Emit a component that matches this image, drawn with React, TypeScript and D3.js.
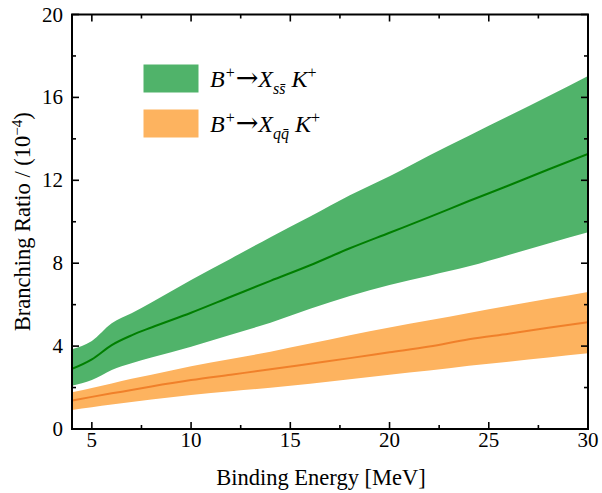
import React from "react";
import * as d3 from "d3";

const energy = [4, 5, 6, 7, 8, 10, 12, 14, 16, 18, 20, 22, 24, 26, 28, 30];
const ssCenter = [2.9, 3.36, 4.05, 4.52, 4.9, 5.61, 6.38, 7.15, 7.9, 8.72, 9.47, 10.22, 11.0, 11.75, 12.52, 13.27];
const ssUpper = [3.85, 4.25, 5.1, 5.58, 6.1, 7.19, 8.22, 9.25, 10.25, 11.28, 12.2, 13.2, 14.15, 15.1, 16.05, 17.03];
const ssLower = [2.09, 2.36, 2.85, 3.17, 3.45, 3.97, 4.55, 5.13, 5.8, 6.42, 6.95, 7.4, 7.85, 8.4, 8.95, 9.49];
const qqCenter = [1.37, 1.55, 1.72, 1.88, 2.05, 2.36, 2.62, 2.88, 3.15, 3.42, 3.7, 3.98, 4.33, 4.6, 4.88, 5.15];
const qqUpper = [1.77, 1.98, 2.2, 2.42, 2.62, 3.03, 3.38, 3.73, 4.12, 4.52, 4.9, 5.25, 5.6, 5.95, 6.28, 6.61];
const qqLower = [0.92, 1.05, 1.18, 1.3, 1.42, 1.64, 1.82, 1.99, 2.18, 2.4, 2.62, 2.82, 3.05, 3.25, 3.45, 3.65];

const xMajor = [5, 10, 15, 20, 25, 30];
const xMinor = [7.5, 12.5, 17.5, 22.5, 27.5];
const yMajor = [0, 4, 8, 12, 16, 20];
const yMinor = [2, 6, 10, 14, 18];

const W = 602, H = 493;
const L = 72, R = 588, T = 14.5, B = 429;
const GREEN_FILL = "#50b36a";
const GREEN_LINE = "#007f00";
const ORANGE_FILL = "#fdb35f";
const ORANGE_LINE = "#f0802a";
const FONT = "'Liberation Serif', 'Times New Roman', serif";

function Legend({ yb, q }: { yb: number; q: string }) {
  return (
    <text x={210} y={yb}>
      <tspan fontStyle="italic">B</tspan>
      <tspan dy={-9} dx={1} fontSize={16}>+</tspan>
      <tspan dy={9} dx={1} fontFamily="'DejaVu Serif'" fontSize={27}>→</tspan>
      <tspan fontStyle="italic">X</tspan>
      <tspan dy={7} fontSize={16} fontStyle="italic">{q}{q + "\u0304"}</tspan>
      <tspan dy={-7}> </tspan>
      <tspan fontStyle="italic">K</tspan>
      <tspan dy={-9} fontSize={16}>+</tspan>
    </text>
  );
}

export default function App() {
  const x = d3.scaleLinear().domain([4, 30]).range([L, R]);
  const y = d3.scaleLinear().domain([0, 20]).range([B, T]);
  const idx = energy.map((_, i) => i);
  const area = (lo: number[], hi: number[]) =>
    d3.area<number>().x((i) => x(energy[i])).y0((i) => y(lo[i])).y1((i) => y(hi[i])).curve(d3.curveMonotoneX)(idx) || "";
  const line = (c: number[]) =>
    d3.line<number>().x((i) => x(energy[i])).y((i) => y(c[i])).curve(d3.curveMonotoneX)(idx) || "";

  const major = 7, minor = 4;
  return (
    <div style={{ position: "fixed", left: 0, top: 0 }}>
      <svg width={W} height={H} style={{ display: "block", background: "#fff" }}>
        <defs>
          <clipPath id="plot">
            <rect x={L} y={T} width={R - L} height={B - T} />
          </clipPath>
        </defs>
        <g clipPath="url(#plot)">
          <path d={area(ssLower, ssUpper)} fill={GREEN_FILL} />
          <path d={area(qqLower, qqUpper)} fill={ORANGE_FILL} />
          <path d={line(ssCenter)} fill="none" stroke={GREEN_LINE} strokeWidth={2} />
          <path d={line(qqCenter)} fill="none" stroke={ORANGE_LINE} strokeWidth={2} />
        </g>
        <g stroke="#000" strokeWidth={1.6}>
          {xMajor.map((v) => (
            <g key={"xM" + v}>
              <line x1={x(v)} x2={x(v)} y1={B} y2={B - major} />
              <line x1={x(v)} x2={x(v)} y1={T} y2={T + major} />
            </g>
          ))}
          {xMinor.map((v) => (
            <g key={"xm" + v}>
              <line x1={x(v)} x2={x(v)} y1={B} y2={B - minor} />
              <line x1={x(v)} x2={x(v)} y1={T} y2={T + minor} />
            </g>
          ))}
          {yMajor.map((v) => (
            <g key={"yM" + v}>
              <line x1={L} x2={L + major} y1={y(v)} y2={y(v)} />
              <line x1={R} x2={R - major} y1={y(v)} y2={y(v)} />
            </g>
          ))}
          {yMinor.map((v) => (
            <g key={"ym" + v}>
              <line x1={L} x2={L + minor} y1={y(v)} y2={y(v)} />
              <line x1={R} x2={R - minor} y1={y(v)} y2={y(v)} />
            </g>
          ))}
        </g>
        <rect x={L} y={T} width={R - L} height={B - T} fill="none" stroke="#000" strokeWidth={2} />
        <g fontFamily={FONT} fontSize={21} fill="#000">
          {xMajor.map((v) => (
            <text key={"xl" + v} x={x(v)} y={B + 18} textAnchor="middle">
              {v}
            </text>
          ))}
          {yMajor.map((v) => (
            <text key={"yl" + v} x={L - 9} y={y(v) + 7} textAnchor="end">
              {v}
            </text>
          ))}
        </g>
        <text x={321} y={485} textAnchor="middle" fontFamily={FONT} fontSize={22.5}>
          Binding Energy [MeV]
        </text>
        <text transform={`translate(30,${(T + B) / 2}) rotate(-90)`} textAnchor="middle" fontFamily={FONT} fontSize={22.5}>
          Branching Ratio / (10
          <tspan dy={-8} fontSize={15}>−4</tspan>
          <tspan dy={8}>)</tspan>
        </text>
        <rect x={143.5} y={64.5} width={55} height={28} fill={GREEN_FILL} />
        <rect x={143.5} y={109.5} width={55} height={28} fill={ORANGE_FILL} />
        <g fontFamily={FONT} fontSize={24}>
          <Legend yb={87} q="s" />
          <Legend yb={132} q="q" />
        </g>
      </svg>
    </div>
  );
}
